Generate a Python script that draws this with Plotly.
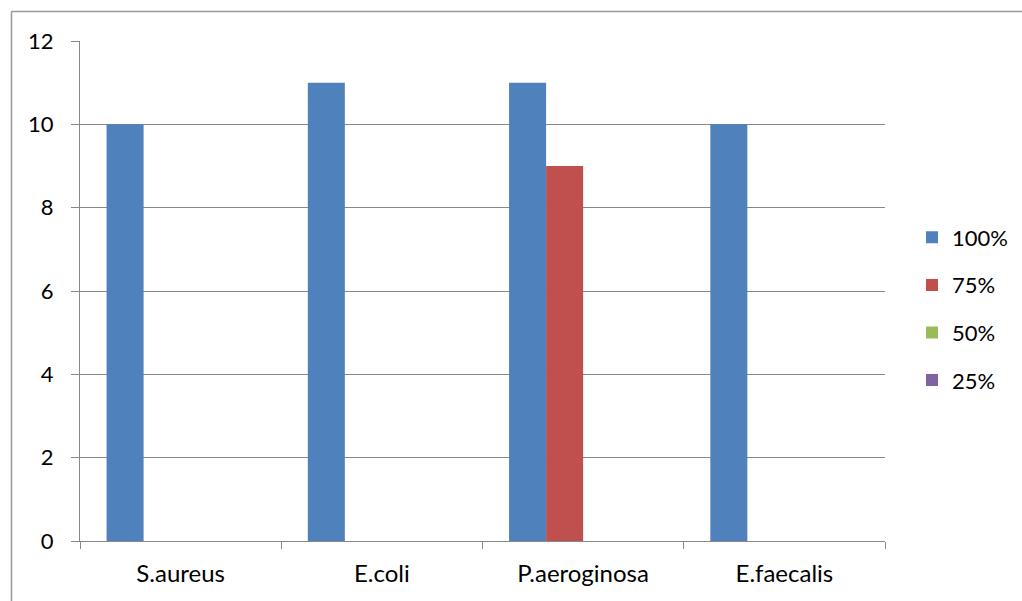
import plotly.graph_objects as go

# Bacterial strains tested and results per concentration
strains = ["S.aureus", "E.coli", "P.aeroginosa", "E.faecalis"]
series_names = ["100%", "75%", "50%", "25%"]
vals_100 = [10, 11, 11, 10]
vals_75 = [0, 0, 9, 0]
vals_50 = [0, 0, 0, 0]
vals_25 = [0, 0, 0, 0]
y_ticks = [0, 2, 4, 6, 8, 10, 12]

colors = ["#4F81BD", "#C0504D", "#9BBB59", "#8064A2"]
font_family = "Lato, 'Open Sans', sans-serif"
fsize = 24

fig = go.Figure()
for name, vals, col in zip(series_names, [vals_100, vals_75, vals_50, vals_25], colors):
    fig.add_trace(go.Bar(
        x=strains, y=vals, name=name, legendgroup=name,
        marker=dict(color=col, line=dict(width=0)),
    ))

# plot area in pixels: x 80..885, y 41..541
W, H = 1022, 601
L, R, T, B = 80, 137, 41, 60
pw, ph = W - L - R, H - T - B

def px_x(p):
    return (p - L) / pw

def px_y(p):
    return (H - B - p) / ph

fig.update_layout(
    width=W, height=H,
    margin=dict(l=L, r=R, t=T, b=B, autoexpand=False),
    paper_bgcolor="white", plot_bgcolor="white",
    barmode="group", bargap=0.264, bargroupgap=0,
    font=dict(family=font_family, size=fsize, color="#000000"),
    showlegend=True,
    legend=dict(
        xref="container", yref="container",
        x=912 / W, y=1 - 309 / H, xanchor="left", yanchor="middle",
        font=dict(size=22), tracegroupgap=16, traceorder="grouped",
        itemwidth=30, bgcolor="rgba(0,0,0,0)",
    ),
    xaxis=dict(
        type="category", showgrid=False, showline=True, linecolor="#888888", linewidth=1,
        ticks="outside", tickson="boundaries", ticklen=7, tickcolor="#888888",
        tickfont=dict(size=fsize), ticklabelstandoff=11, zeroline=False,
    ),
    yaxis=dict(
        range=[0, 12], tickvals=y_ticks, showgrid=True, gridcolor="#888888", gridwidth=1,
        showline=True, linecolor="#888888", linewidth=1,
        ticks="outside", ticklen=8, tickcolor="#888888",
        tickfont=dict(size=22), ticklabelstandoff=13, zeroline=False,
    ),
    shapes=[
        # outer chart frame (left and top edges)
        dict(type="line", xref="paper", yref="paper",
             x0=px_x(11.5), x1=px_x(11.5), y0=px_y(11.5), y1=px_y(620),
             line=dict(color="#999999", width=1.5)),
        dict(type="line", xref="paper", yref="paper",
             x0=px_x(11.5), x1=px_x(1030), y0=px_y(11.5), y1=px_y(11.5),
             line=dict(color="#999999", width=1.5)),
    ],
)

fig.write_html("out.html")
